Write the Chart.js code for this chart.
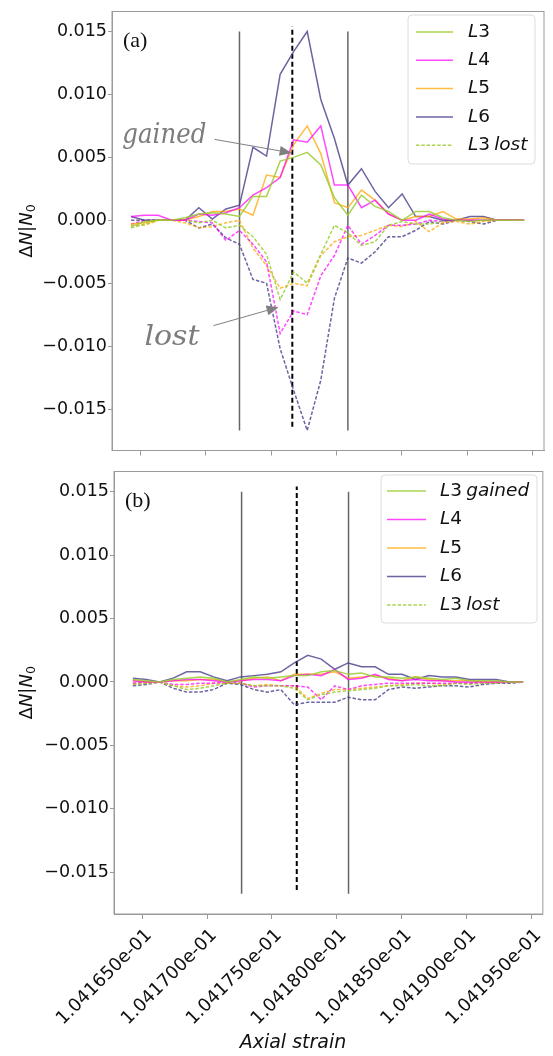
<!DOCTYPE html>
<html>
<head>
<meta charset="utf-8">
<script src="https://cdn.jsdelivr.net/npm/chart.js@4.4.1/dist/chart.umd.min.js"></script>
<style>
  html, body { margin: 0; padding: 0; background: #fff; }
  #wrap { position: relative; width: 553px; height: 1056px; overflow: hidden; }
  canvas { position: absolute; left: 0; }
</style>
</head>
<body>
<div id="wrap">
  <canvas id="chart-top" width="553" height="462" style="top:0"></canvas>
  <canvas id="chart-bot" width="553" height="596" style="top:460px"></canvas>
</div>
<script>
// ── Data ──────────────────────────────────────────────────────────────────────
const strain = [
  0.10416428, 0.10416532, 0.10416635, 0.10416739, 0.10416843, 0.10416947,
  0.10417050, 0.10417154, 0.10417258, 0.10417361, 0.10417465, 0.10417569,
  0.10417672, 0.10417776, 0.10417880, 0.10417984, 0.10418087, 0.10418191,
  0.10418295, 0.10418398, 0.10418502, 0.10418606, 0.10418709, 0.10418813,
  0.10418917, 0.10419021, 0.10419124, 0.10419228, 0.10419332, 0.10419435,
];
const xTicks = [0.104165, 0.104170, 0.104175, 0.104180, 0.104185, 0.104190, 0.104195];
const yTicks = [-0.015, -0.010, -0.005, 0, 0.005, 0.010, 0.015];

// (a) gained / lost
const topGainL3 = [-0.0005,-0.0001,0,0,0.0002,0.0005,0.0006,0.0005,0.0003,0.0019,0.0019,0.0047,0.0050,0.0054,0.0044,0.0018,0.0004,0.0020,0.0011,0.0007,0,0.0007,0.0007,0.0002,0,-0.0001,0,0,0,0];
const topGainL4 = [0.0003,0.0004,0.0004,0,0,0.0005,0.0004,0.0006,0.0010,0.0020,0.0026,0.0034,0.0064,0.0062,0.0075,0.0028,0.0028,0.0010,0.0016,0.0005,0,0,0.0005,0.0001,0,0,0,0,0,0];
const topGainL5 = [-0.0003,-0.0002,0,0,0,0.0003,0.0007,0.0007,0.0009,0.0004,0.0036,0.0034,0.0060,0.0075,0.0053,0.0014,0.0010,0.0024,0.0016,0.0005,0,0.0003,0.0003,0.0007,0.0001,0.0001,0.0002,0,0,0];
const topGainL6 = [0.0003,0,0,0,0,0.0010,0.0001,0.0009,0.0012,0.0058,0.0051,0.0116,0.0134,0.0150,0.0096,0.0065,0.0028,0.0041,0.0023,0.0010,0.0021,0.0003,0.0003,0,0,0.0003,0.0003,0,0,0];
const topLostL3 = [-0.0006,-0.0003,0,0,0,-0.0002,0,-0.0006,-0.0004,-0.0013,-0.0027,-0.0063,-0.0041,-0.0050,-0.0027,-0.0004,-0.0010,-0.0020,-0.0017,-0.0004,-0.0001,-0.0003,-0.0003,-0.0001,0,0,0,0,0,0];
const topLostL4 = [-0.0003,0,0,0,0,-0.0001,-0.0002,-0.0016,-0.0008,-0.0019,-0.0033,-0.0090,-0.0072,-0.0075,-0.0044,-0.0028,-0.0004,-0.0019,-0.0012,-0.0004,-0.0004,-0.0003,0,-0.0001,0,0,0,0,0,0];
const topLostL5 = [-0.0004,-0.0004,0,0,-0.0002,-0.0006,-0.0005,-0.0002,0,-0.0022,-0.0036,-0.0054,-0.0050,-0.0052,-0.0028,-0.0017,-0.0013,-0.0012,-0.0008,-0.0004,-0.0005,-0.0001,-0.0009,-0.0002,-0.0001,-0.0003,-0.0001,0,0,0];
const topLostL6 = [0,0,0,0,0,-0.0006,-0.0003,-0.0014,-0.0019,-0.0047,-0.0050,-0.0102,-0.0135,-0.0167,-0.0127,-0.0062,-0.0030,-0.0034,-0.0025,-0.0013,-0.0013,-0.0008,-0.0001,-0.0003,0,-0.0001,-0.0003,0,0,0];

// (b) gained / lost
const botGainL3 = [0.0002,0.0001,0,0.0002,0.0003,0.0004,0.0003,0,0.0002,0.0004,0.0003,0.0004,0.0005,0.0005,0.0008,0.0009,0.0006,0.0007,0.0004,0.0004,0.0003,0.0004,0.0003,0.0002,0.0003,0.0001,0.0001,0.0001,0,0];
const botGainL4 = [0.0001,0,0,0.0001,0.0002,0.0002,0.0001,0,0.0001,0.0002,0.0002,0.0001,0.0005,0.0006,0.0005,0.0010,0.0002,0.0003,0.0006,0.0002,0.0001,0.0002,0.0001,0.0001,0,0,0,0,0,0];
const botGainL5 = [0.0001,0,0,0.0001,0.0001,0.0002,0.0002,0,0.0001,0.0003,0.0004,0.0001,0.0006,0.0006,0.0006,0.0008,0.0003,0.0004,0.0005,0.0003,0.0001,0.0004,0.0002,0.0001,0.0001,0.0001,0,0,0,0];
const botGainL6 = [0.0003,0.0002,0,0.0003,0.0008,0.0008,0.0004,0.0001,0.0004,0.0005,0.0006,0.0008,0.0015,0.0021,0.0018,0.0010,0.0015,0.0012,0.0012,0.0006,0.0006,0.0002,0.0005,0.0004,0.0004,0.0002,0.0002,0.0002,0,0];
const botLostL3 = [-0.0002,-0.0001,0,-0.0003,-0.0006,-0.0005,-0.0003,-0.0001,-0.0001,-0.0003,-0.0003,-0.0003,-0.0005,-0.0014,-0.0010,-0.0008,-0.0007,-0.0006,-0.0005,-0.0003,-0.0003,-0.0002,-0.0003,-0.0003,-0.0001,-0.0002,-0.0001,-0.0001,0,0];
const botLostL4 = [-0.0001,0,0,-0.0002,-0.0002,-0.0001,-0.0001,0,-0.0001,-0.0004,-0.0003,-0.0003,-0.0003,-0.0004,-0.0014,-0.0003,-0.0006,-0.0003,-0.0002,-0.0001,-0.0001,-0.0001,-0.0001,-0.0001,-0.0001,-0.0001,-0.0001,0,0,0];
const botLostL5 = [-0.0001,-0.0001,0,-0.0003,-0.0004,-0.0003,-0.0001,-0.0001,-0.0001,-0.0003,-0.0002,-0.0003,-0.0003,-0.0013,-0.0009,-0.0006,-0.0006,-0.0005,-0.0004,-0.0003,-0.0002,-0.0001,-0.0001,-0.0002,-0.0001,-0.0001,0,0,0,0];
const botLostL6 = [-0.0003,-0.0002,0,-0.0005,-0.0008,-0.0008,-0.0006,-0.0001,-0.0002,-0.0006,-0.0008,-0.0006,-0.0018,-0.0016,-0.0016,-0.0016,-0.0012,-0.0014,-0.0014,-0.0006,-0.0004,-0.0005,-0.0004,-0.0003,-0.0003,-0.0004,-0.0002,-0.0001,-0.0001,0];

// vertical markers
const topSolidX  = [0.10417258, 0.10418087];
const topDashedX = 0.10417662;
const botSolidX  = [0.10417266, 0.10418090];
const botDashedX = 0.10417691;
const solidSpan  = [-0.0167, 0.0150];
const dashedSpan = [-0.0164, 0.0154];

const topLegend = ['L3', 'L4', 'L5', 'L6', 'L3 lost'];
const botLegend = ['L3 gained', 'L4', 'L5', 'L6', 'L3 lost'];

// ── Style ─────────────────────────────────────────────────────────────────────
const X_MIN = 0.10416283, X_MAX = 0.10419587;
const Y_MIN = -0.01829,   Y_MAX = 0.01659;
const COLORS = ['rgba(154,205,50,0.85)', 'rgba(255,0,255,0.72)', 'rgba(255,165,0,0.75)', 'rgba(72,61,139,0.8)'];
const SPINE = '#9a9a9a';
const INK = '#111';
const LOST_DASH = [3.5, 1.8];

function series(vals, color, dashed) {
  return {
    data: strain.map((x, i) => ({ x, y: vals[i] })),
    borderColor: color, borderWidth: 1.5, borderDash: dashed ? LOST_DASH : [],
    pointRadius: 0, tension: 0, fill: false,
  };
}
function vline(x, span, dashed) {
  return {
    data: [{ x, y: span[0] }, { x, y: span[1] }],
    borderColor: dashed ? '#000' : '#666', borderWidth: dashed ? 2 : 1.5,
    borderDash: dashed ? [5, 3] : [], pointRadius: 0, fill: false,
  };
}

// mathtext-like: letters italic, digits upright
function drawMath(ctx, text, x, y, size) {
  for (const ch of text) {
    if (ch === ' ') { x += size * 0.22; continue; }
    ctx.font = (/[0-9]/.test(ch) ? '' : 'italic ') + size + 'px "DejaVu Sans"';
    ctx.fillText(ch, x, y);
    x += ctx.measureText(ch).width;
  }
  return x;
}
function fitText(ctx, text, x, y, width, font) {
  ctx.font = font;
  const w = ctx.measureText(text).width;
  ctx.save();
  ctx.translate(x, y);
  ctx.scale(width / w, 1);
  ctx.fillText(text, 0, 0);
  ctx.restore();
}
function arrow(ctx, x0, y0, x1, y1) {
  const a = Math.atan2(y1 - y0, x1 - x0), L = 12, W = 5;
  const bx = x1 - L * Math.cos(a), by = y1 - L * Math.sin(a);
  ctx.strokeStyle = '#808080'; ctx.fillStyle = '#808080'; ctx.lineWidth = 1;
  ctx.beginPath(); ctx.moveTo(x0, y0); ctx.lineTo(bx, by); ctx.stroke();
  ctx.beginPath();
  ctx.moveTo(x1, y1);
  ctx.lineTo(bx + W * Math.sin(a), by - W * Math.cos(a));
  ctx.lineTo(bx - W * Math.sin(a), by + W * Math.cos(a));
  ctx.closePath(); ctx.fill();
}

// ── Plugins ───────────────────────────────────────────────────────────────────
const decor = {
  id: 'decor',
  afterDraw(chart, args, o) {
    const { ctx, chartArea: ca, scales: { x, y } } = chart;
    ctx.save();
    // frame
    ctx.strokeStyle = SPINE; ctx.lineWidth = 1;
    ctx.strokeRect(ca.left, ca.top, ca.right - ca.left, ca.bottom - ca.top);

    // panel letter
    ctx.fillStyle = INK; ctx.textBaseline = 'middle'; ctx.textAlign = 'left';
    ctx.font = '22px "Liberation Serif"';
    ctx.fillText(o.letter, ca.left + 11, ca.top + 30);

    // y label  ΔN|N0
    ctx.save();
    ctx.translate(27, (ca.top + ca.bottom) / 2);
    ctx.rotate(-Math.PI / 2);
    const s = 18;
    const parts = [['Δ', ''], ['N', 'italic '], ['|', ''], ['N', 'italic ']];
    let tw = 0;
    parts.forEach(([t, f]) => { ctx.font = f + s + 'px "DejaVu Sans"'; tw += ctx.measureText(t).width; });
    ctx.font = (s * 0.7) + 'px "DejaVu Sans"'; tw += ctx.measureText('0').width;
    let px = -tw / 2;
    parts.forEach(([t, f]) => { ctx.font = f + s + 'px "DejaVu Sans"'; ctx.fillText(t, px, 0); px += ctx.measureText(t).width; });
    ctx.font = (s * 0.7) + 'px "DejaVu Sans"'; ctx.fillText('0', px, s * 0.25);
    ctx.restore();

    // legend
    const L = o.legend;
    ctx.fillStyle = 'rgba(255,255,255,0.85)'; ctx.strokeStyle = '#dcdcdc'; ctx.lineWidth = 1;
    ctx.beginPath(); ctx.roundRect(L.x, L.y, L.w, L.h, 4); ctx.fill(); ctx.stroke();
    L.labels.forEach((lab, k) => {
      const ry = L.y + L.first + k * L.step;
      const ds = chart.data.datasets[k];
      ctx.strokeStyle = ds.borderColor; ctx.lineWidth = 1.5; ctx.setLineDash(ds.borderDash);
      ctx.beginPath(); ctx.moveTo(L.x + L.sx0, ry); ctx.lineTo(L.x + L.sx1, ry); ctx.stroke();
      ctx.setLineDash([]);
      ctx.fillStyle = INK;
      drawMath(ctx, lab, L.x + L.tx, ry, 18.5);
    });

    // annotations
    (o.notes || []).forEach(n => {
      ctx.fillStyle = '#7c7c7c'; ctx.textBaseline = 'alphabetic';
      fitText(ctx, n.text, x.getPixelForValue(n.at[0]), y.getPixelForValue(n.at[1]), n.width, 'italic 27px "DejaVu Serif"');
      arrow(ctx, x.getPixelForValue(n.from[0]), y.getPixelForValue(n.from[1]),
                 x.getPixelForValue(n.to[0]), y.getPixelForValue(n.to[1]));
    });

    // x title
    if (o.xTitle) {
      ctx.fillStyle = INK; ctx.textBaseline = 'middle';
      ctx.font = 'italic 19px "DejaVu Sans"';
      const t = 'Axial strain';
      const w = ctx.measureText(t).width;
      ctx.fillText(t, o.xTitle[0] - w / 2, o.xTitle[1]);
    }
    ctx.restore();
  },
};

function panel(id, cfg) {
  const sets = [
    series(cfg.gain[0], COLORS[0], false),
    series(cfg.gain[1], COLORS[1], false),
    series(cfg.gain[2], COLORS[2], false),
    series(cfg.gain[3], COLORS[3], false),
    series(cfg.lost[0], COLORS[0], true),
    series(cfg.lost[1], COLORS[1], true),
    series(cfg.lost[2], COLORS[2], true),
    series(cfg.lost[3], COLORS[3], true),
    vline(cfg.solidX[0], solidSpan, false),
    vline(cfg.solidX[1], solidSpan, false),
    vline(cfg.dashedX, dashedSpan, true),
  ];
  return new Chart(document.getElementById(id), {
    type: 'line',
    data: { datasets: sets },
    plugins: [decor],
    options: {
      responsive: false, animation: false, devicePixelRatio: 1,
      layout: { padding: cfg.pad },
      plugins: { legend: { display: false }, tooltip: { enabled: false }, decor: cfg.decor },
      scales: {
        x: {
          type: 'linear', min: X_MIN, max: X_MAX,
          afterBuildTicks: s => { s.ticks = xTicks.map(v => ({ value: v })); },
          afterFit: s => { s.height = cfg.xHeight; },
          grid: { drawOnChartArea: false, drawTicks: true, tickLength: 5, color: SPINE },
          border: { color: SPINE },
          ticks: {
            display: cfg.xLabels, autoSkip: false, minRotation: 45, maxRotation: 45,
            padding: 6, labelOffset: 7, color: INK, font: { family: 'DejaVu Sans', size: 18 },
            callback: v => (v * 10).toFixed(6) + 'e-01',
          },
        },
        y: {
          min: Y_MIN, max: Y_MAX,
          afterBuildTicks: s => { s.ticks = yTicks.map(v => ({ value: v })); },
          afterFit: s => { s.width = cfg.yWidth; },
          grid: { drawOnChartArea: false, drawTicks: true, tickLength: 4, color: SPINE },
          border: { color: SPINE },
          ticks: {
            padding: 1, color: INK, font: { family: 'DejaVu Sans', size: 17.5 },
            callback: v => v.toFixed(3).replace('-', '\u2212'),
          },
        },
      },
    },
  });
}

panel('chart-top', {
  gain: [topGainL3, topGainL4, topGainL5, topGainL6],
  lost: [topLostL3, topLostL4, topLostL5, topLostL6],
  solidX: topSolidX, dashedX: topDashedX,
  pad: { top: 6, right: 9, bottom: 0, left: 0 },
  xHeight: 7, xLabels: false, yWidth: 112,
  decor: {
    letter: '(a)',
    legend: { x: 408, y: 15, w: 127, h: 149, first: 17, step: 28.3, sx0: 8, sx1: 45, tx: 60, labels: topLegend },
    notes: [
      { text: 'gained', at: [0.10416362, 0.00612], width: 84, from: [0.10417067, 0.00643], to: [0.10417657, 0.00535] },
      { text: 'lost',   at: [0.10416531, -0.00992], width: 55, from: [0.10417059, -0.00837], to: [0.10417557, -0.00690] },
    ],
  },
});

panel('chart-bot', {
  gain: [botGainL3, botGainL4, botGainL5, botGainL6],
  lost: [botLostL3, botLostL4, botLostL5, botLostL6],
  solidX: botSolidX, dashedX: botDashedX,
  pad: { top: 5, right: 7, bottom: 0, left: 0 },
  xHeight: 142, xLabels: true, yWidth: 114,
  decor: {
    letter: '(b)',
    legend: { x: 381, y: 15, w: 156, h: 148, first: 16, step: 28.5, sx0: 6, sx1: 45, tx: 59, labels: botLegend },
    xTitle: [293, 583],
  },
});
</script>
</body>
</html>
